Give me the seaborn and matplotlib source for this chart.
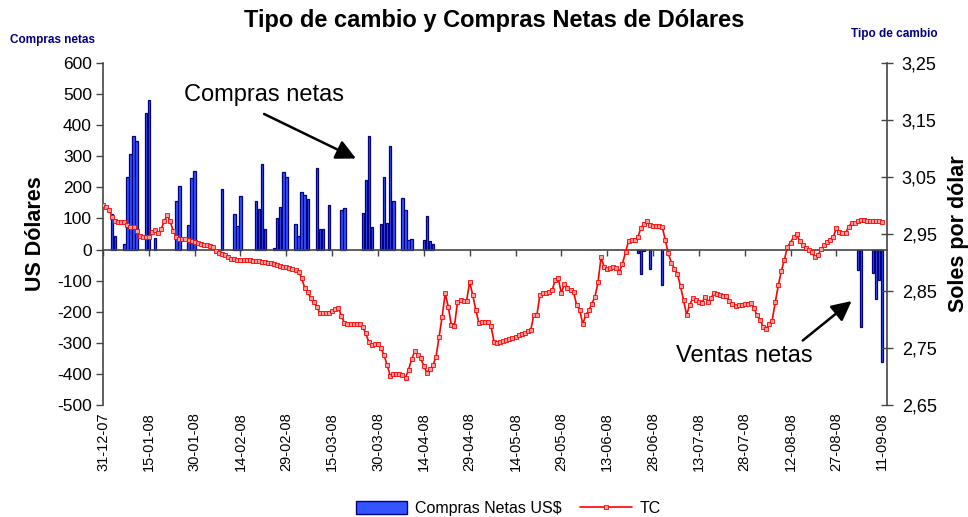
import pandas as pd
import matplotlib
matplotlib.use('Agg')
import matplotlib.pyplot as plt
import matplotlib.dates as mdates
from matplotlib.patches import Patch
from matplotlib.ticker import FuncFormatter
import seaborn as sns

# Tipo de cambio diario (soles por dolar), 31-12-07 al 11-09-08
tc_dic = [3.001]
tc_ene = [2.998, 2.993, 2.980, 2.972, 2.971, 2.971, 2.971, 2.965, 2.963, 2.963,
          2.955, 2.946, 2.945, 2.945, 2.945, 2.953, 2.957, 2.951, 2.958, 2.972,
          2.983, 2.972, 2.955, 2.945, 2.941, 2.941, 2.941, 2.940, 2.938, 2.936, 2.934]
tc_feb = [2.933, 2.931, 2.930, 2.929, 2.928, 2.921, 2.917, 2.915, 2.913, 2.910,
          2.907, 2.906, 2.905, 2.905, 2.905, 2.904, 2.904, 2.903, 2.903, 2.902,
          2.901, 2.901, 2.900, 2.899, 2.897, 2.896, 2.894, 2.893, 2.892]
tc_mar = [2.890, 2.888, 2.887, 2.884, 2.873, 2.856, 2.848, 2.838, 2.831, 2.822,
          2.811, 2.811, 2.812, 2.812, 2.815, 2.818, 2.820, 2.807, 2.794, 2.793,
          2.793, 2.793, 2.793, 2.793, 2.787, 2.776, 2.760, 2.755, 2.757, 2.757, 2.750]
tc_abr = [2.737, 2.720, 2.701, 2.704, 2.704, 2.704, 2.703, 2.698, 2.712, 2.730,
          2.744, 2.738, 2.732, 2.718, 2.707, 2.713, 2.720, 2.735, 2.770, 2.805,
          2.846, 2.822, 2.790, 2.788, 2.830, 2.834, 2.832, 2.833, 2.866, 2.843]
tc_may = [2.817, 2.794, 2.796, 2.796, 2.795, 2.788, 2.760, 2.759, 2.760, 2.762,
          2.764, 2.766, 2.767, 2.770, 2.773, 2.775, 2.777, 2.780, 2.782, 2.808,
          2.808, 2.843, 2.846, 2.847, 2.849, 2.851, 2.870, 2.872, 2.846, 2.863, 2.855]
tc_jun = [2.852, 2.849, 2.825, 2.817, 2.792, 2.808, 2.816, 2.828, 2.840, 2.865,
          2.910, 2.892, 2.888, 2.890, 2.892, 2.890, 2.884, 2.898, 2.918, 2.938,
          2.939, 2.940, 2.944, 2.960, 2.968, 2.972, 2.966, 2.964, 2.964, 2.964]
tc_jul = [2.963, 2.940, 2.916, 2.900, 2.889, 2.880, 2.858, 2.834, 2.808, 2.826,
          2.837, 2.834, 2.831, 2.829, 2.840, 2.831, 2.838, 2.847, 2.845, 2.843,
          2.842, 2.841, 2.833, 2.828, 2.824, 2.825, 2.826, 2.827, 2.828, 2.829, 2.820]
tc_ago = [2.808, 2.800, 2.787, 2.783, 2.793, 2.798, 2.830, 2.860, 2.885, 2.905,
          2.928, 2.935, 2.945, 2.950, 2.938, 2.930, 2.925, 2.922, 2.918, 2.909,
          2.913, 2.923, 2.930, 2.936, 2.940, 2.945, 2.960, 2.953, 2.951, 2.951, 2.963]
tc_sep = [2.969, 2.969, 2.972, 2.975, 2.974, 2.973, 2.973, 2.973, 2.973, 2.972, 2.971]

tc_values = tc_dic + tc_ene + tc_feb + tc_mar + tc_abr + tc_may + tc_jun + tc_jul + tc_ago + tc_sep
tc_dates = pd.date_range('2007-12-31', '2008-09-11', freq='D')

# Compras (+) / ventas (-) netas del BCRP, millones de US$
compras_fechas = ['2008-01-03', '2008-01-04', '2008-01-07', '2008-01-08', '2008-01-09',
                  '2008-01-10', '2008-01-11', '2008-01-14', '2008-01-15', '2008-01-17',
                  '2008-01-24', '2008-01-25', '2008-01-28', '2008-01-29', '2008-01-30',
                  '2008-02-08', '2008-02-12', '2008-02-13', '2008-02-14', '2008-02-19',
                  '2008-02-20', '2008-02-21', '2008-02-22', '2008-02-25', '2008-02-26',
                  '2008-02-27', '2008-02-28', '2008-02-29', '2008-03-03', '2008-03-04',
                  '2008-03-05', '2008-03-06', '2008-03-07', '2008-03-10', '2008-03-11',
                  '2008-03-12', '2008-03-14', '2008-03-18', '2008-03-19', '2008-03-25',
                  '2008-03-26', '2008-03-27', '2008-03-28', '2008-03-31', '2008-04-01',
                  '2008-04-02', '2008-04-03', '2008-04-04', '2008-04-07', '2008-04-08',
                  '2008-04-09', '2008-04-10', '2008-04-14', '2008-04-15', '2008-04-16',
                  '2008-04-17', '2008-06-23', '2008-06-24', '2008-06-25', '2008-06-27',
                  '2008-07-01', '2008-09-03', '2008-09-04', '2008-09-08', '2008-09-09',
                  '2008-09-10', '2008-09-11']
compras_montos = [115, 43, 19, 233, 307, 366, 349, 440, 481, 36,
                  157, 203, 80, 231, 252,
                  194, 114, 75, 173, 157,
                  131, 274, 67, 5, 102,
                  138, 249, 234, 82, 45,
                  185, 175, 163, 262, 67,
                  67, 144, 128, 135, 118,
                  224, 365, 73, 83, 232,
                  85, 333, 157, 165, 128,
                  30, 33, 30, 107, 27,
                  18, -11, -78, -5, -63,
                  -114, -67, -249, -74, -160,
                  -97, -362]

tick_dates = pd.date_range('2007-12-31', periods=18, freq='15D')

sns.set_theme(style='white')
plt.rcParams['font.family'] = ['Liberation Sans', 'DejaVu Sans']
plt.rcParams['axes.unicode_minus'] = False
for key in ('text.color', 'axes.labelcolor', 'xtick.labelcolor', 'ytick.labelcolor'):
    plt.rcParams[key] = 'black'

fig = plt.figure(figsize=(9.68, 5.17), dpi=100)
ax = fig.add_axes([0.1064, 0.2166, 0.81, 0.6615])
ax2 = ax.twinx()

bar_color = '#3355ff'
bar_edge = '#000080'
ax.bar(pd.to_datetime(compras_fechas), compras_montos, width=0.8,
       color=bar_color, edgecolor=bar_edge, linewidth=0.9, zorder=2)

sns.lineplot(x=tc_dates, y=tc_values, ax=ax2, color='red', linewidth=1.2,
             marker='s', markersize=3.3, markerfacecolor='#ff9c9c',
             markeredgecolor='red', markeredgewidth=0.6, legend=False)

start = pd.Timestamp('2007-12-31')
ax.set_xlim(start, start + pd.Timedelta(days=256.6))
ax.set_ylim(-500, 600)
ax.set_yticks(range(-500, 601, 100))
ax2.set_ylim(2.65, 3.25)
ax2.set_yticks([2.65, 2.75, 2.85, 2.95, 3.05, 3.15, 3.25])
ax2.yaxis.set_major_formatter(FuncFormatter(lambda v, p: f'{v:.2f}'.replace('.', ',')))

ax.set_xticks(tick_dates)
ax.xaxis.set_major_formatter(mdates.DateFormatter('%d-%m-%y'))
ax.spines['bottom'].set_position(('data', 0))
ax.tick_params(axis='x', bottom=True, direction='out', length=4, width=1,
               color='#444444', pad=113, labelsize=10.5, labelrotation=90)
ax.tick_params(axis='y', left=True, direction='out', length=5, width=1,
               color='#444444', labelsize=12.5, pad=3)
ax2.tick_params(axis='y', right=True, direction='inout', length=9, width=1,
                color='#444444', labelsize=13, pad=6)

for a in (ax, ax2):
    a.spines['top'].set_visible(False)
    a.set_xlabel('')
ax2.spines['bottom'].set_visible(False)
ax2.spines['left'].set_visible(False)
for s in ('left', 'bottom'):
    ax.spines[s].set_color('#444444')
    ax.spines[s].set_linewidth(1.2)
ax.spines['right'].set_visible(False)
ax2.spines['right'].set_color('#444444')
ax2.spines['right'].set_linewidth(1.2)

ax.set_ylabel('US Dólares', fontsize=15.5, fontweight='bold', labelpad=8)
ax2.set_ylabel('Soles por dólar', fontsize=15.5, fontweight='bold', labelpad=8)

fig.text(0.511, 0.961, 'Tipo de cambio y Compras Netas de Dólares',
         ha='center', va='center', fontsize=17, fontweight='bold')
fig.text(0.0105, 0.922, 'Compras netas', ha='left', va='center',
         fontsize=8.5, fontweight='bold', color='#000080')
fig.text(0.879, 0.934, 'Tipo de cambio', ha='left', va='center',
         fontsize=8.5, fontweight='bold', color='#000080')

# anotaciones
ax.text(start + pd.Timedelta(days=52.6), 497, 'Compras netas',
        ha='center', va='center', fontsize=17)
ax.annotate('', xy=(start + pd.Timedelta(days=83.6), 289),
            xytext=(start + pd.Timedelta(days=51.9), 440),
            arrowprops=dict(arrowstyle='-|>', color='black', lw=1.8, mutation_scale=30))
ax.text(start + pd.Timedelta(days=210), -343, 'Ventas netas',
        ha='center', va='center', fontsize=17)
ax.annotate('', xy=(start + pd.Timedelta(days=245.7), -160),
            xytext=(start + pd.Timedelta(days=228.3), -298),
            arrowprops=dict(arrowstyle='-|>', color='black', lw=1.8, mutation_scale=30))

handles = [Patch(facecolor=bar_color, edgecolor=bar_edge, linewidth=1),
           ax2.get_lines()[0]]
fig.legend(handles, ['Compras Netas US$', 'TC'], loc='center', ncol=2,
           bbox_to_anchor=(0.525, 0.016), frameon=False, fontsize=11.5,
           handlelength=3.2, handleheight=0.9, columnspacing=1.2, handletextpad=0.5)

fig.savefig('out.png', dpi=100)
